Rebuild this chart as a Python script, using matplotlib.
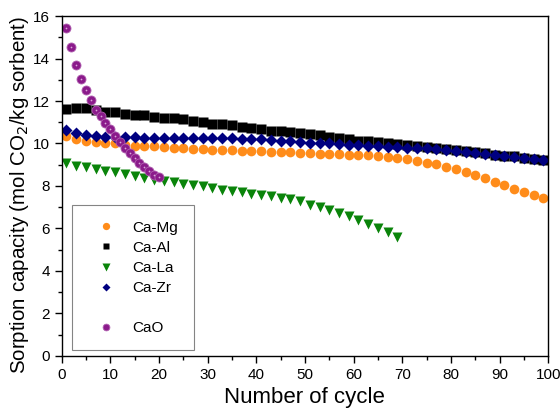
import numpy as np
import matplotlib
matplotlib.use('Agg')
import matplotlib.pyplot as plt
from matplotlib.lines import Line2D

plt.rcParams['font.family'] = ['Liberation Sans', 'DejaVu Sans']

# cycles (every second cycle for the mixed sorbents, every cycle for CaO)
cycles = list(range(1, 100, 2))
cycles_la = list(range(1, 70, 2))
cycles_cao = list(range(1, 21))

ca_mg = [10.34, 10.22, 10.11, 10.07, 10.03, 10.00, 9.94, 9.90, 9.90, 9.87,
         9.84, 9.80, 9.78, 9.75, 9.72, 9.71, 9.69, 9.68, 9.66, 9.65,
         9.63, 9.62, 9.60, 9.58, 9.56, 9.55, 9.52, 9.51, 9.50, 9.48,
         9.45, 9.44, 9.42, 9.37, 9.34, 9.27, 9.18, 9.10, 9.02, 8.91,
         8.80, 8.68, 8.52, 8.36, 8.19, 8.03, 7.88, 7.74, 7.58, 7.42]

ca_al = [11.64, 11.68, 11.65, 11.56, 11.50, 11.48, 11.40, 11.34, 11.33, 11.26,
         11.20, 11.18, 11.13, 11.05, 11.00, 10.93, 10.90, 10.85, 10.79, 10.74,
         10.66, 10.61, 10.58, 10.53, 10.50, 10.46, 10.38, 10.30, 10.24, 10.19,
         10.13, 10.10, 10.06, 10.00, 9.97, 9.92, 9.87, 9.82, 9.77, 9.72,
         9.69, 9.64, 9.59, 9.54, 9.48, 9.43, 9.39, 9.34, 9.28, 9.23]

ca_la = [9.06, 8.96, 8.88, 8.81, 8.71, 8.65, 8.56, 8.46, 8.38, 8.30,
         8.22, 8.18, 8.11, 8.05, 7.99, 7.89, 7.83, 7.77, 7.71, 7.64,
         7.58, 7.52, 7.44, 7.39, 7.28, 7.12, 7.01, 6.89, 6.73, 6.57,
         6.38, 6.21, 6.00, 5.82, 5.60]

ca_zr = [10.63, 10.50, 10.42, 10.34, 10.31, 10.29, 10.29, 10.29, 10.28, 10.28,
         10.28, 10.28, 10.28, 10.26, 10.26, 10.25, 10.25, 10.24, 10.22, 10.21,
         10.19, 10.17, 10.14, 10.11, 10.06, 10.03, 10.03, 10.00, 9.98, 9.95,
         9.92, 9.87, 9.87, 9.84, 9.83, 9.80, 9.80, 9.78, 9.74, 9.69,
         9.66, 9.61, 9.56, 9.51, 9.45, 9.40, 9.36, 9.31, 9.25, 9.20]

cao = [15.45, 14.54, 13.68, 13.02, 12.50, 12.04, 11.60, 11.29, 10.98, 10.66,
       10.34, 10.06, 9.79, 9.53, 9.33, 9.09, 8.88, 8.69, 8.54, 8.41]

fig = plt.figure(figsize=(5.6, 4.11), dpi=100)
ax = fig.add_axes([0.110, 0.134, 0.869, 0.827])

ax.plot(cycles, ca_mg, 'o', color='#ff8c1a', ms=7, mec='none', label='Ca-Mg')
ax.plot(cycles, ca_al, 's', color='black', ms=6.5, mec='none', label='Ca-Al')
ax.plot(cycles_la, ca_la, 'v', color='#0a840a', ms=7, mec='none', label='Ca-La')
ax.plot(cycles, ca_zr, 'D', color='#000080', ms=6, mec='none', label='Ca-Zr')
ax.plot(cycles_cao, cao, 'o', color='#8b1a8b', ms=6.5, mec='#b060b0', mew=0.6, label='CaO')
ax.plot(cycles_cao, cao, '.', color='#d9a6d9', ms=2.5, mec='none')

ax.set_xlim(0, 100)
ax.set_ylim(0, 16)
ax.set_xticks(np.arange(0, 101, 10))
ax.set_xticks(np.arange(0, 101, 5), minor=True)
ax.set_yticks(np.arange(0, 17, 2))
ax.set_yticks(np.arange(0, 17, 1), minor=True)
ax.tick_params(which='major', direction='out', length=5, width=1, labelsize=11, top=False, right=False)
ax.tick_params(which='minor', direction='out', length=3, width=1, top=False, right=False)
for s in ax.spines.values():
    s.set_linewidth(1)

ax.set_xlabel('Number of cycle', fontsize=16, labelpad=4)
ax.set_ylabel('Sorption capacity (mol CO$_2$/kg sorbent)', fontsize=14.8)
ax.yaxis.set_label_coords(-0.062, 0.475)

handles, labels = ax.get_legend_handles_labels()
blank = Line2D([], [], linestyle='none', marker=None)
handles = handles[:4] + [blank] + handles[4:5]
labels = labels[:4] + [''] + labels[4:5]
leg = ax.legend(handles, labels, loc='lower left', bbox_to_anchor=(0.022, 0.016),
                borderaxespad=0, fontsize=11, frameon=True, fancybox=False,
                edgecolor='#666666', markerscale=0.75, handletextpad=0.55,
                labelspacing=0.4, borderpad=1.0, handlelength=2.4)
leg.get_frame().set_linewidth(0.8)

fig.savefig('out.png', dpi=100)
